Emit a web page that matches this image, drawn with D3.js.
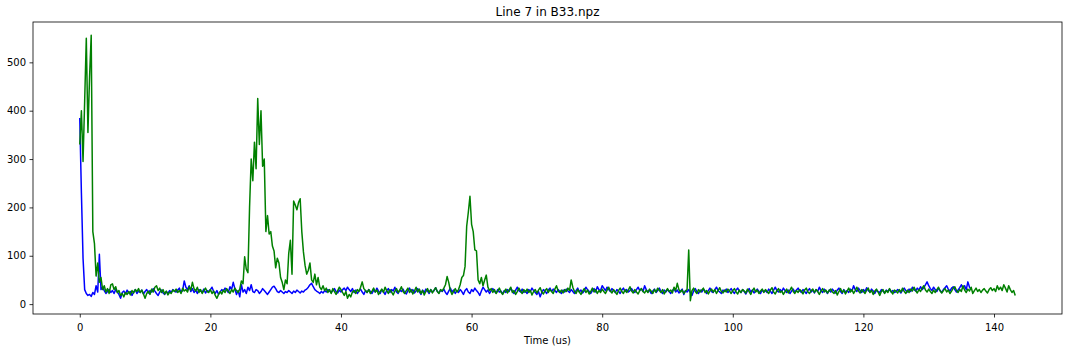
<!DOCTYPE html>
<html><head><meta charset="utf-8">
<script src="https://cdn.jsdelivr.net/npm/d3@7"></script>
<style>
body{margin:0;background:#fff;}
svg text{font-family:"DejaVu Sans",sans-serif;fill:#000;}
</style>
</head><body>
<svg id="chart" width="1072" height="352"></svg>
<script>
const chartTitle = "Line 7 in B33.npz";
const xLabel = "Time (us)";
const timeStep = 0.25; // µs between samples
const xTicks = [0, 20, 40, 60, 80, 100, 120, 140];
const yTicks = [0, 100, 200, 300, 400, 500];

const blueValues = [
385,230,95,30,22,18,20,16,24,20,38,25,103,30,35,28,22,26,30,24,
28,22,30,25,20,12,24,27,21,29,23,26,18,25,30,22,27,24,29,21,
26,30,23,28,25,32,27,22,18,25,29,23,20,26,22,28,24,30,27,25,
29,33,24,28,48,35,30,38,26,32,24,29,22,30,27,25,31,23,28,26,
30,35,26,22,28,20,25,30,27,33,29,24,36,30,45,32,20,28,15,40,
25,30,22,35,28,40,26,24,30,28,22,26,32,28,24,20,25,30,35,37,
32,26,24,28,25,22,26,24,28,25,22,27,24,29,26,23,27,25,29,31,
35,40,43,36,30,27,25,22,26,23,28,25,30,27,24,28,32,26,23,29,
25,30,33,28,35,30,26,32,24,29,22,27,31,25,20,28,24,30,26,22,
29,25,33,27,22,30,26,20,28,32,24,30,27,35,25,22,29,26,31,24,
21,28,33,25,30,23,27,32,26,20,29,24,31,27,22,30,25,28,34,26,
23,29,26,31,24,20,27,33,25,29,22,28,24,30,26,20,28,32,25,22,
30,26,33,28,24,18,27,35,30,25,29,22,28,32,26,23,30,25,27,21,
28,24,30,26,33,27,22,29,35,28,25,31,24,27,22,30,26,33,28,24,
20,26,15,24,30,27,22,29,33,26,31,28,24,30,26,22,29,25,31,27,
24,30,26,22,28,33,25,29,23,27,35,30,26,22,28,32,25,36,30,28,
38,33,28,35,30,26,32,28,24,30,27,22,29,33,26,30,25,28,32,27,
24,30,35,28,32,26,38,30,25,29,22,27,31,24,28,33,26,22,29,25,
30,26,22,28,32,25,29,23,27,31,20,28,25,30,24,18,27,32,26,22,
29,25,31,27,22,28,33,26,24,30,35,28,25,22,29,26,31,24,28,32,
26,22,29,33,27,24,30,26,21,28,32,25,29,23,27,31,26,22,30,25,
28,24,31,27,22,29,35,28,25,30,26,33,28,24,29,22,27,31,25,29,
33,27,24,30,26,22,28,32,25,29,23,30,26,35,28,24,31,27,22,29,
25,31,27,23,29,33,26,22,30,25,28,24,31,27,38,30,26,33,28,24,
30,26,34,28,25,31,27,22,29,26,24,30,27,23,29,26,31,25,28,24,
26,30,27,23,29,33,28,25,31,26,35,30,27,33,29,36,30,34,40,46,
38,32,28,35,30,26,33,28,24,30,34,38,31,27,33,36,30,25,29,34,
40,33,38,30,46,35,30
];

const greenValues = [
330,400,295,420,550,355,470,556,150,125,58,85,45,55,30,38,25,32,22,40,
42,30,36,24,28,18,22,15,24,20,26,19,28,23,30,26,32,24,29,21,
12,22,27,20,31,25,35,38,28,33,24,30,21,27,19,25,22,29,26,31,
24,28,22,33,27,30,25,36,29,45,32,27,35,24,30,22,28,33,26,24,
30,22,27,18,12,20,26,21,29,24,32,27,22,30,25,33,28,24,31,48,
42,98,72,65,200,300,255,335,280,425,330,400,285,300,150,183,145,150,120,110,
75,95,85,55,45,30,50,42,105,132,62,213,205,195,210,218,150,108,80,62,
70,85,50,45,62,40,55,35,30,38,28,33,24,30,22,32,26,20,28,35,
30,24,18,26,12,20,15,25,28,22,30,26,35,46,32,28,24,30,22,27,
33,25,29,20,26,31,24,35,28,22,30,25,19,27,32,24,29,36,26,22,
28,33,24,30,21,27,35,25,31,22,28,19,26,32,24,30,23,29,34,26,
22,30,27,33,40,57,45,28,20,26,32,25,30,40,55,59,78,161,190,223,
165,150,112,110,50,42,55,38,50,60,35,28,32,24,30,22,27,33,25,20,
26,31,23,29,35,24,28,20,26,33,27,22,30,25,31,24,28,19,26,30,
23,29,34,25,21,28,32,24,30,26,22,31,38,27,24,29,23,30,26,33,
28,50,35,26,22,30,25,20,27,32,24,29,21,26,33,25,30,22,28,24,
31,26,22,29,35,27,23,30,25,20,28,33,26,22,30,24,29,36,27,23,
30,25,21,28,32,26,23,29,24,31,27,22,30,25,33,28,24,30,21,27,
32,26,29,23,35,28,43,30,25,29,22,27,30,112,7,28,33,26,22,30,
25,29,33,24,28,21,27,31,25,30,22,28,34,26,23,29,25,31,27,22,
28,32,25,21,29,24,30,27,23,31,26,20,28,33,25,29,22,27,31,24,
30,26,22,29,34,25,21,28,32,24,27,20,26,31,23,29,35,26,22,28,
24,30,27,21,29,33,25,22,28,31,24,30,26,20,27,32,25,29,23,28,
31,25,22,28,19,26,32,24,29,21,27,33,25,30,22,28,35,27,23,30,
26,22,29,33,24,28,20,27,31,25,18,26,30,22,28,24,32,26,21,29,
27,23,30,25,33,26,22,29,24,31,27,35,28,23,30,26,33,38,29,25,
31,26,22,29,24,30,35,27,23,28,32,25,29,22,27,33,36,28,24,30,
26,38,29,24,31,27,35,22,28,33,26,30,24,29,32,27,23,30,34,28,
32,26,38,30,35,28,40,33,25,38,30,24,28,18
];

const seriesList = [
  {name: "blue", color: "#0000ff", values: blueValues},
  {name: "green", color: "#008000", values: greenValues}
];

const W = 1072, H = 352;
const margin = {left: 33, right: 10, top: 22, bottom: 38};
const iw = W - margin.left - margin.right;
const ih = H - margin.top - margin.bottom;

const svg = d3.select("#chart");
svg.append("rect").attr("width", W).attr("height", H).attr("fill", "#fff");

const toPoints = vals => vals.map((v, i) => ({t: i * timeStep, v}));
seriesList.forEach(s => s.points = toPoints(s.values));

const allPts = seriesList.flatMap(s => s.points);
const tExt = d3.extent(allPts, d => d.t);
const vExt = d3.extent(allPts, d => d.v);
const tPad = (tExt[1] - tExt[0]) * 0.05;
const vPad = (vExt[1] - vExt[0]) * 0.05;

const x = d3.scaleLinear().domain([tExt[0] - tPad, tExt[1] + tPad]).range([0, iw]);
const y = d3.scaleLinear().domain([vExt[0] - vPad, vExt[1] + vPad]).range([ih, 0]);

const g = svg.append("g").attr("transform", `translate(${margin.left},${margin.top})`);

const clip = svg.append("defs").append("clipPath").attr("id", "clip");
clip.append("rect").attr("width", iw).attr("height", ih);

const line = d3.line().x(d => x(d.t)).y(d => y(d.v));
const plot = g.append("g").attr("clip-path", "url(#clip)");
seriesList.forEach(s => {
  plot.append("path").datum(s.points)
    .attr("fill", "none")
    .attr("stroke", s.color)
    .attr("stroke-width", 1.5)
    .attr("stroke-linejoin", "round")
    .attr("d", line);
});

// axes
const xAxis = g.append("g").attr("transform", `translate(0,${ih})`)
  .call(d3.axisBottom(x).tickValues(xTicks).tickSize(3.5).tickPadding(3.5).tickFormat(d3.format("d")));
const yAxis = g.append("g")
  .call(d3.axisLeft(y).tickValues(yTicks).tickSize(3.5).tickPadding(3.5).tickFormat(d3.format("d")));
[xAxis, yAxis].forEach(a => {
  a.select(".domain").remove();
  a.selectAll(".tick line").attr("stroke", "#000").attr("stroke-width", 0.8);
  a.selectAll(".tick text").attr("font-size", "10px").attr("font-family", "DejaVu Sans, sans-serif").attr("fill", "#000");
});
xAxis.selectAll(".tick text").attr("dy", "0.95em");

// frame
g.append("rect").attr("width", iw).attr("height", ih)
  .attr("fill", "none").attr("stroke", "#000").attr("stroke-width", 0.8);

// labels
svg.append("text").attr("x", margin.left + iw / 2).attr("y", 16)
  .attr("text-anchor", "middle").attr("font-size", "12px").text(chartTitle);
svg.append("text").attr("x", margin.left + iw / 2).attr("y", 344)
  .attr("text-anchor", "middle").attr("font-size", "10px").text(xLabel);
</script>
</body></html>
